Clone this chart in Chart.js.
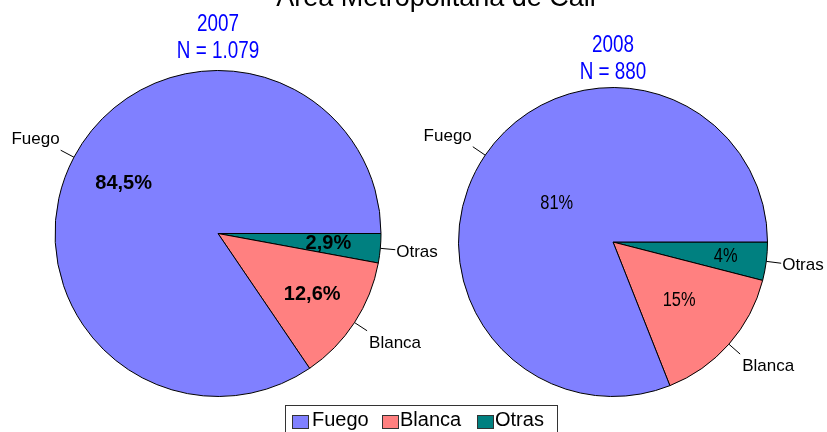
<!DOCTYPE html>
<html>
<head>
<meta charset="utf-8">
<script src="https://cdn.jsdelivr.net/npm/chart.js@4"></script>
<style>
  body { margin: 0; background: #fff; }
  #wrap { position: relative; width: 827px; height: 432px; overflow: hidden; font-family: "Liberation Sans", Arial, sans-serif; }
  #wrap canvas { position: absolute; left: 0; top: 0; }
  .txt { position: absolute; white-space: nowrap; }
  .sub { color: #0000ff; font-size: 23px; line-height: 27px; text-align: center; }
  #legend { position: absolute; left: 285px; top: 405px; width: 271px; height: 40px; border: 1px solid #333; }
  .sw { position: absolute; top: 415px; width: 15px; height: 12px; border: 1px solid #333; }
  .lt { position: absolute; top: 409px; font-size: 20px; line-height: 20px; }
</style>
</head>
<body>
<div id="wrap">
  <canvas id="pie2007" width="827" height="432"></canvas>
  <canvas id="pie2008" width="827" height="432"></canvas>
  <div class="txt" id="title" style="left:436px; top:-16px; font-size:27px; line-height:27px; transform:translateX(-50%);">Área Metropolitana de Cali</div>
  <div class="txt sub" id="sub2007" style="left:218px; top:10px;">2007<br>N = 1.079</div>
  <div class="txt sub" id="sub2008" style="left:613px; top:31px;">2008<br>N = 880</div>
  <div id="legend"></div>
</div>
<script>
// categories in legend order
const categories = ['Fuego', 'Blanca', 'Otras'];
const colors = ['#8080ff', '#ff8080', '#008080'];
const values2007 = [84.5, 12.6, 2.9];
const values2008 = [81, 15, 4];
const years = ['2007', '2008'];
const totals = ['1.079', '880'];

// pick a narrow font, or squeeze the normal one
function hasFont(name) {
  const c = document.createElement('canvas').getContext('2d');
  c.font = '40px monospace';
  const a = c.measureText('N = 1.079 abc').width;
  c.font = '40px "' + name + '", monospace';
  const b = c.measureText('N = 1.079 abc').width;
  return Math.abs(a - b) > 0.5;
}
const narrowOk = hasFont('Liberation Sans Narrow');
const narrowFamily = narrowOk ? '"Liberation Sans Narrow"' : '"Liberation Sans"';
const narrowScale = narrowOk ? 1 : 0.82;

['sub2007', 'sub2008'].forEach(id => {
  const el = document.getElementById(id);
  el.style.fontFamily = narrowFamily;
  el.style.transform = 'translateX(-50%) scaleX(' + narrowScale + ')';
});

// legend
const legend = document.getElementById('legend');
const wrap = document.getElementById('wrap');
const swX = [292, 382, 477];
const txX = [312, 400, 495];
categories.forEach((c, i) => {
  const sw = document.createElement('div');
  sw.className = 'sw';
  sw.style.left = swX[i] + 'px';
  sw.style.background = colors[i];
  wrap.appendChild(sw);
  const t = document.createElement('div');
  t.className = 'txt lt';
  t.style.left = txX[i] + 'px';
  t.textContent = c;
  wrap.appendChild(t);
});

const sliceLabels = {
  id: 'sliceLabels',
  afterDatasetsDraw(chart, args, opts) {
    const ctx = chart.ctx;
    const meta = chart.getDatasetMeta(0);
    const labels = chart.data.labels;
    const vals = chart.data.datasets[0].data;
    ctx.save();
    meta.data.forEach((arc, i) => {
      const p = arc.getProps(['x', 'y', 'startAngle', 'endAngle', 'outerRadius'], true);
      const mid = (p.startAngle + p.endAngle) / 2;
      const cos = Math.cos(mid), sin = Math.sin(mid);
      // percentage inside
      const r = p.outerRadius * opts.frac[i];
      const px = p.x + cos * r, py = p.y + sin * r;
      const txt = vals[i].toFixed(opts.decimals).replace('.', ',') + '%';
      ctx.fillStyle = '#000';
      ctx.textAlign = 'center';
      ctx.textBaseline = 'middle';
      ctx.font = opts.pctFont;
      ctx.save();
      ctx.translate(px, py);
      ctx.scale(opts.pctScale, 1);
      ctx.fillText(txt, 0, 0);
      ctx.restore();
      // leader line and category name
      const x0 = p.x + cos * p.outerRadius, y0 = p.y + sin * p.outerRadius;
      const x1 = p.x + cos * (p.outerRadius + 15), y1 = p.y + sin * (p.outerRadius + 15);
      ctx.strokeStyle = '#000';
      ctx.lineWidth = 1;
      ctx.beginPath();
      ctx.moveTo(x0, y0);
      ctx.lineTo(x1, y1);
      ctx.stroke();
      ctx.font = '17px "Liberation Sans", Arial, sans-serif';
      ctx.textBaseline = 'alphabetic';
      if (cos < 0) {
        ctx.textAlign = 'right';
        ctx.fillText(labels[i], x1 - 1, y1 - 6);
      } else if (sin > 0.3) {
        ctx.textAlign = 'left';
        ctx.fillText(labels[i], x1 + 2, y1 + 17);
      } else {
        ctx.textAlign = 'left';
        ctx.fillText(labels[i], x1 + 1, y1 + 7);
      }
    });
    ctx.restore();
  }
};

function makePie(id, values, padding, labelOpts) {
  // drawn clockwise from 3 o'clock: Otras, Blanca, Fuego
  const order = [2, 1, 0];
  return new Chart(document.getElementById(id), {
    type: 'pie',
    data: {
      labels: order.map(i => categories[i]),
      datasets: [{
        data: order.map(i => values[i]),
        backgroundColor: order.map(i => colors[i]),
        borderColor: '#000',
        borderWidth: 1
      }]
    },
    options: {
      responsive: false,
      animation: false,
      rotation: 90,
      layout: { padding: padding },
      plugins: {
        legend: { display: false },
        tooltip: { enabled: false },
        sliceLabels: labelOpts
      }
    },
    plugins: [sliceLabels]
  });
}

makePie('pie2007', values2007, { left: 54, right: 445, top: 70, bottom: 35 }, {
  frac: [0.68, 0.69, 0.655],
  decimals: 1,
  pctFont: 'bold 20px "Liberation Sans", Arial, sans-serif',
  pctScale: 1
});
makePie('pie2008', values2008, { left: 458, right: 59, top: 87, bottom: 35 }, {
  frac: [0.735, 0.57, 0.44],
  decimals: 0,
  pctFont: '20px ' + narrowFamily + ', sans-serif',
  pctScale: narrowScale
});
</script>
</body>
</html>
